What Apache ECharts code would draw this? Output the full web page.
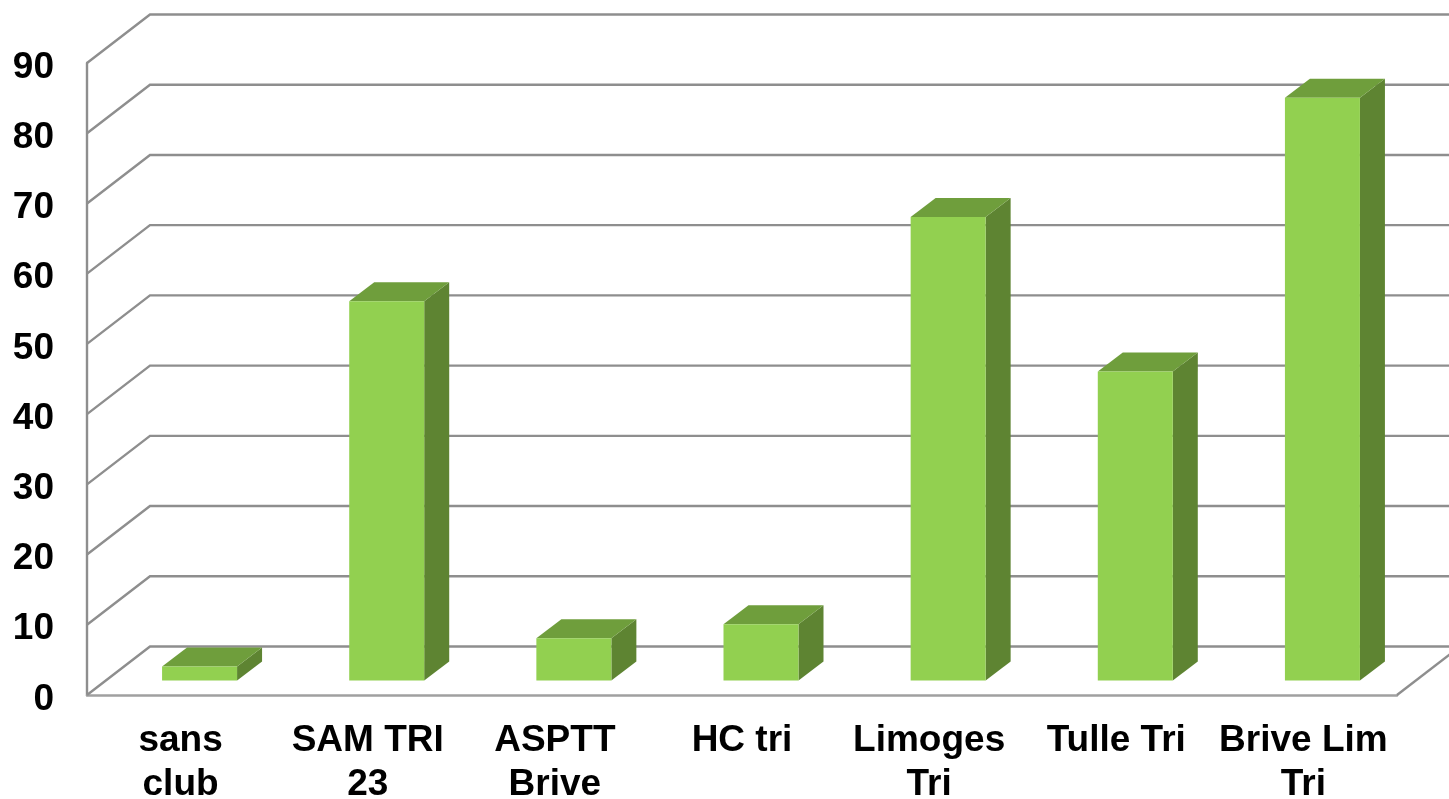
<!DOCTYPE html>
<html>
<head>
<meta charset="utf-8">
<style>html,body{margin:0;padding:0;background:#fff}#c{width:1449px;height:799px}</style>
<script src="https://cdn.jsdelivr.net/npm/echarts@6/dist/echarts.min.js"></script>
</head>
<body>
<div id="c"></div>
<script>
const categories = ['sans\nclub', 'SAM TRI\n23', 'ASPTT\nBrive', 'HC tri', 'Limoges\nTri', 'Tulle Tri', 'Brive Lim\nTri'];
const values = [2, 54, 6, 8, 66, 44, 83];
const yTicks = [0, 10, 20, 30, 40, 50, 60, 70, 80, 90];

const WALL = { dx: 63, dy: 48.5 };
const BAR = { width: 75, dx: 25, dy: 19, shiftX: 19, shiftY: 14.5 };
const COLORS = { front: '#92D050', top: '#6F9E3C', side: '#5E8432', grid: '#8E8E8E', floor: '#A0A0A0' };
const FONT = '"Liberation Sans", Arial, sans-serif';

const chart = echarts.init(document.getElementById('c'), null, { renderer: 'canvas' });

function renderGrid(params, api) {
  const v = api.value(0);
  const band = api.size([1, 0])[0];
  const left = api.coord([0, v]);
  const right = api.coord([categories.length - 1, v]);
  const x0 = left[0] - band / 2;
  const x1 = right[0] + band / 2;
  const y = left[1];
  const children = [{
    type: 'polyline',
    shape: { points: [[x0, y], [x0 + WALL.dx, y - WALL.dy], [x1 + WALL.dx, y - WALL.dy]] },
    style: { fill: null, stroke: COLORS.grid, lineWidth: 2.4 }
  }];
  if (v === 0) {
    children.push({
      type: 'line',
      shape: { x1: x1, y1: y, x2: x1 + WALL.dx, y2: y - WALL.dy },
      style: { stroke: COLORS.grid, lineWidth: 2.4 }
    });
  }
  return { type: 'group', children };
}

function renderBar(params, api) {
  const i = api.value(0);
  const base = api.coord([i, 0]);
  const top = api.coord([i, api.value(1)]);
  const xl = base[0] + BAR.shiftX - BAR.width / 2;
  const xr = xl + BAR.width;
  const yb = base[1] - BAR.shiftY;
  const yt = top[1] - BAR.shiftY;
  return {
    type: 'group',
    children: [
      { type: 'polygon', shape: { points: [[xr, yt], [xr + BAR.dx, yt - BAR.dy], [xr + BAR.dx, yb - BAR.dy], [xr, yb]] }, style: { fill: COLORS.side } },
      { type: 'polygon', shape: { points: [[xl, yt], [xl + BAR.dx, yt - BAR.dy], [xr + BAR.dx, yt - BAR.dy], [xr, yt]] }, style: { fill: COLORS.top } },
      { type: 'rect', shape: { x: xl, y: yt, width: BAR.width, height: yb - yt }, style: { fill: COLORS.front } }
    ]
  };
}

chart.setOption({
  animation: false,
  backgroundColor: '#fff',
  grid: { left: 87, right: 52, top: 63, bottom: 104, containLabel: false, outerBoundsMode: 'none' },
  xAxis: {
    type: 'category',
    data: categories,
    axisLine: { show: true, lineStyle: { color: COLORS.floor, width: 2.5 } },
    axisTick: { show: false },
    splitLine: { show: false },
    axisLabel: { interval: 0, color: '#000', fontFamily: FONT, fontWeight: 'bold', fontSize: 37, lineHeight: 44, margin: 24, hideOverlap: false }
  },
  yAxis: {
    type: 'value',
    min: 0,
    max: 90,
    interval: 10,
    axisLine: { show: true, lineStyle: { color: COLORS.grid, width: 2.4 } },
    axisTick: { show: false },
    splitLine: { show: false },
    axisLabel: { color: '#000', fontFamily: FONT, fontWeight: 'bold', fontSize: 37, margin: 33, verticalAlign: 'top', lineHeight: 9, showMinLabel: true, showMaxLabel: true, hideOverlap: false }
  },
  series: [
    {
      type: 'custom', name: 'grid', clip: false, z: 1, silent: true,
      encode: { x: 1, y: 0 },
      data: yTicks.map(v => [v, 0]),
      renderItem: renderGrid
    },
    {
      type: 'custom', name: 'bars', clip: false, z: 3,
      encode: { x: 0, y: 1 },
      data: values.map((v, i) => [i, v]),
      renderItem: renderBar
    }
  ]
});
</script>
</body>
</html>
